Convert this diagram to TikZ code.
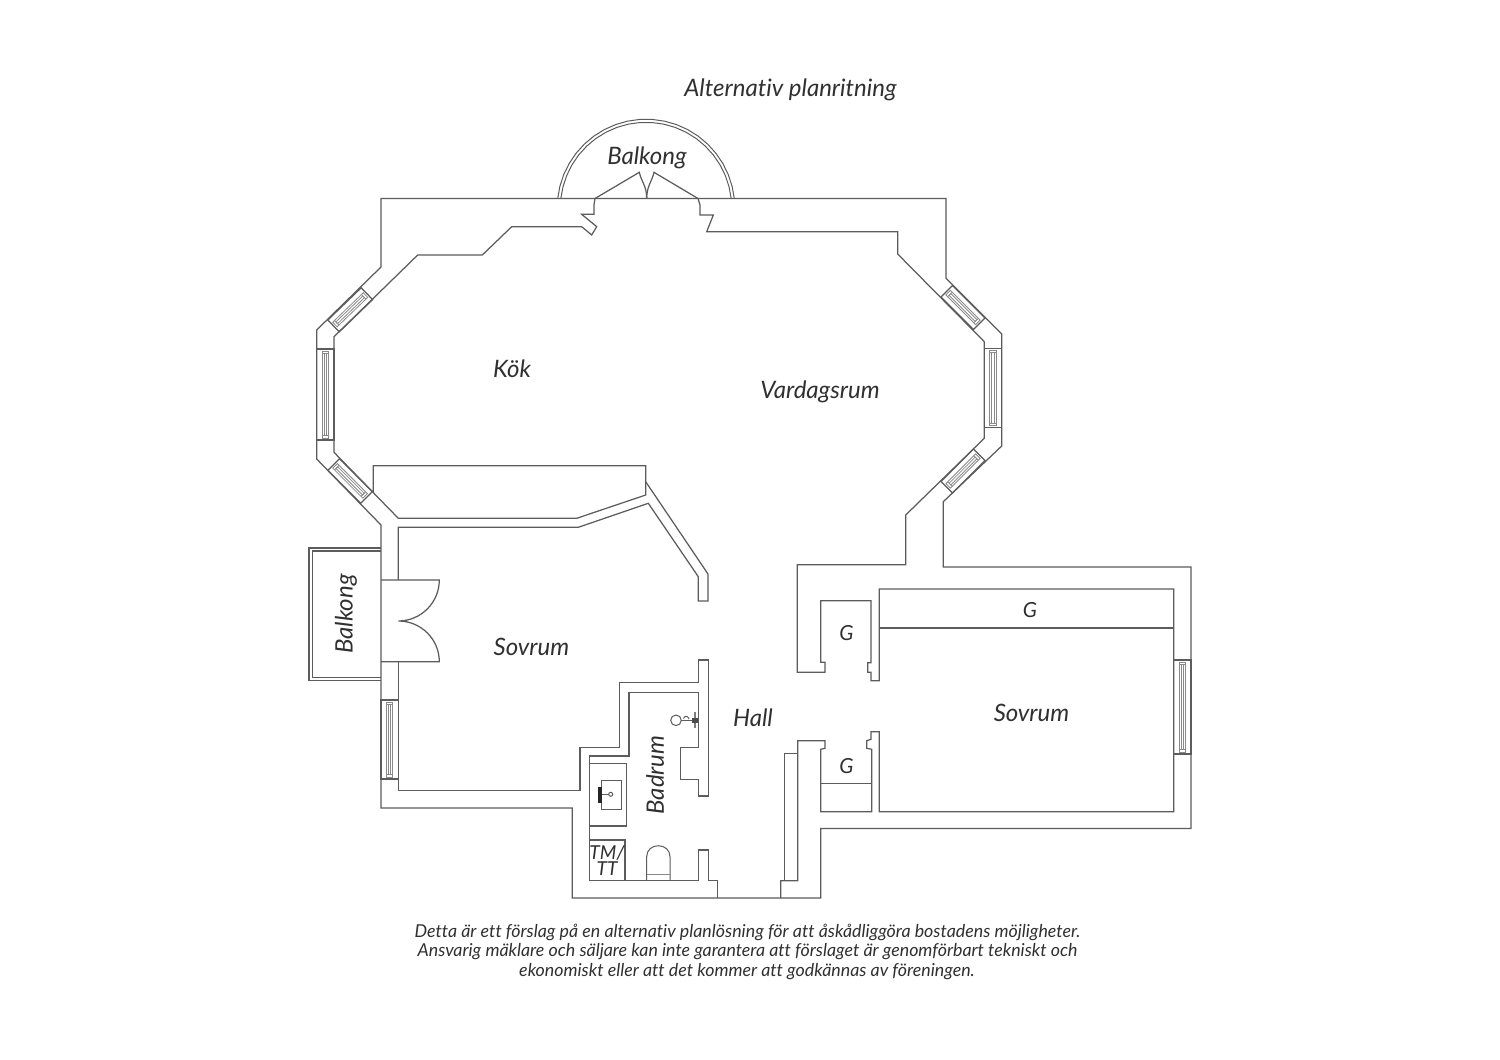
\documentclass[tikz,border=0pt]{standalone}
\usepackage{fontspec}
\setmainfont{Lato}[Ligatures=NoCommon]
\definecolor{wallc}{HTML}{5C5C5C}
\definecolor{textc}{HTML}{303030}
\definecolor{thinc}{HTML}{8A8A8A}
\newcommand{\planwin}[5]{%
  \begin{scope}[shift={(#1,#2)},rotate=#3]
    \draw[wall] ({-#4/2},{-#5/2}) rectangle ({#4/2},{#5/2});
    \draw[thinw] ({-#4/2+2},-3.2) rectangle ({#4/2-2},3.2);
    \draw[thinw] ({-#4/2+4.5},-1.2) rectangle ({#4/2-4.5},1.2);
    \draw[thinw] ({-#4/2+4.5},-3.2) -- ({-#4/2+4.5},3.2) ({#4/2-4.5},-3.2) -- ({#4/2-4.5},3.2);
  \end{scope}}
\tikzset{
  wall/.style={draw=wallc,line width=0.62pt,line join=miter},
  thinw/.style={draw=thinc,line width=0.4pt},
  lab/.style={text=textc,font=\itshape\fontsize{12}{14}\selectfont,inner sep=0pt},
  small/.style={text=textc,font=\itshape\fontsize{10.4}{12}\selectfont,inner sep=0pt},
  tiny/.style={text=textc,font=\itshape\fontsize{9.6}{11}\selectfont,inner sep=0pt},
  note/.style={text=textc,font=\itshape\fontsize{8.9}{10}\selectfont,inner sep=0pt}
}
\begin{document}
\begin{tikzpicture}[x=0.5pt,y=-0.5pt]
\useasboundingbox[fill=white] (0,0) rectangle (1500,1060);
% outer wall
\draw[wall] (381,198.5) -- (946,198.5) -- (946,278.3) -- (1001.7,334) -- (1001.7,446) -- (943.3,501.7) -- (943.3,567) -- (1191,567) -- (1191,828.5) -- (820.7,828.5) -- (820.7,898) -- (572.3,898) -- (572.3,808) -- (381,808) -- (381,525) -- (316.7,459) -- (316.7,330) -- (381,267) -- cycle;
% main room, west side
\draw[wall] (595,198.5) -- (594,205) -- (594,214.3) -- (581.7,214.3) -- (596.7,226.7) -- (591.7,235) -- (581.7,226.7) -- (511.7,226.7) -- (482.3,255) -- (417.7,255) -- (334,336.7) -- (334,452.3) -- (398.3,518.3) -- (576.7,518.3) -- (645.7,495) -- (645.7,465.7) -- (373.3,465.7) -- (373.3,492);
% bedroom wall top
\draw[wall] (645.7,481.7) -- (708,574) -- (708,601) -- (698.3,601) -- (698.3,576.7) -- (648.3,503.3) -- (578.3,527.3) -- (398.3,527.3) -- (398.3,580);
% bedroom / bathroom
\draw[wall] (398.3,661.7) -- (398.3,790.7) -- (580,790.7) -- (580,747.3) -- (619.3,747.3) -- (619.3,682.7) -- (698.3,682.7) -- (698.3,660) -- (708.3,660) -- (708.3,796) -- (698.3,796) -- (698.3,779.3) -- (680.7,779.3) -- (680.7,747.3) -- (698.3,747.3) -- (698.3,692.3) -- (629,692.3) -- (629,756) -- (589.3,756) -- (589.3,880.7) -- (698.3,880.7) -- (698.3,850) -- (708.3,850) -- (708.3,880.7) -- (717.7,880.7) -- (717.7,898);
% east side
\draw[wall] (780.7,898) -- (780.7,880.7) -- (797.7,880.7) -- (797.7,740.7) -- (825,740.7) -- (825,748.3) -- (820.7,749.3) -- (820.7,811.7) -- (871.7,811.7) -- (871.7,749.3) -- (866.7,748.3) -- (866.7,740.7) -- (871,739.3) -- (871,731.7) -- (879.3,731.7) -- (879.3,811.7) -- (1173.7,811.7) -- (1173.7,589) -- (879.3,589) -- (879.3,680.7) -- (871,680.7) -- (871,672.3) -- (867.7,672.3) -- (867.7,662.7) -- (871,662.7) -- (871,600.7) -- (820.7,600.7) -- (820.7,662.3) -- (825,662.3) -- (825,672.3) -- (797.3,672.3) -- (797.3,564.7) -- (905.7,564.7) -- (905.7,515) -- (984.3,438.3) -- (984.3,341.7) -- (897.7,254) -- (897.7,231.7) -- (706.7,231.7) -- (713.3,215) -- (700,215) -- (700,205) -- (698,198.5);
\draw[wall] (784.3,880.7) -- (784.3,753.3) -- (797.7,753.3);
\draw[wall] (820.7,783.3) -- (871.7,783.3);
\draw[wall] (879.3,628) -- (1173.7,628);
% windows
\planwin{350.2}{309.8}{44}{46.4}{16.4}
\planwin{325.4}{394.5}{90}{91}{17.3}
\planwin{350.1}{480.9}{-45}{46.5}{16.4}
\planwin{963}{307.5}{-45}{46}{16.4}
\planwin{993}{388}{90}{79.4}{17.4}
\planwin{963}{471}{45}{46}{16.4}
\planwin{1182.3}{707}{90}{94}{17.3}
\planwin{389.6}{739.5}{90}{79}{17.3}
% north balcony
\draw[wall,line width=0.5pt] plot[domain=6.1:173.9,samples=22] ({646+88.8*cos(\x)},{208-88.8*sin(\x)});
\draw[wall,line width=0.5pt] plot[domain=6.4:173.6,samples=22] ({646+85.7*cos(\x)},{208-85.7*sin(\x)});
\draw[wall] (595,198.5) -- (639.3,172.3) .. controls (641.5,182) and (646.7,186) .. (646.7,198.5);
\draw[wall] (698,198.5) -- (654,172.3) .. controls (651.8,182) and (646.7,186) .. (646.7,198.5);
% west balcony
\draw[wall] (381,548) -- (309,548) -- (309,680.7) -- (381,680.7);
\draw[wall] (381,551) -- (312.3,551) -- (312.3,677.7) -- (381,677.7);
% bedroom door
\draw[wall] (381,580) -- (439.3,580) .. controls (439.3,602.6) and (420.9,621) .. (398.3,621) .. controls (420.9,621) and (439.3,639) .. (439.3,661.7) -- (381,661.7);
% sink
\draw[wall] (589.3,763.3) -- (626.7,763.3) -- (626.7,826) -- (589.3,826);
\draw[thinw,draw=wallc] (601.7,780) rectangle (621.7,809.3);
\fill[black!85] (597.7,786.7) rectangle (602.3,802.7);
\draw[wallc,line width=0.5pt] (602.3,794.3) -- (609,794.3);
\draw[wallc,line width=0.5pt] (610.7,794.3) circle[radius=2];
% closet
\draw[wall] (589.3,840) -- (625,840) -- (625,880.7);
% toilet
\draw[wall,line width=0.5pt] (646.7,880.7) -- (646.7,856.7) .. controls (646.7,850) and (652,845.7) .. (658.3,845.7) .. controls (664.7,845.7) and (670,850) .. (670,856.7) -- (670,880.7);
\draw[thinw] (646.7,874) -- (670,874);
% shower
\draw[wallc,line width=0.5pt] (676,720.3) circle[radius=5.3];
\draw[wallc,line width=0.6pt] (681.3,720.3) -- (698.3,720.3);
\draw[wallc,line width=0.5pt] (683.5,718.5) .. controls (685,715) and (688,716) .. (689,719);
\fill[wallc!80] (693.6,711.7) rectangle (696.4,728.3);
\fill[black!70] (691.5,717.5) rectangle (697.5,722.5);
% labels
\node[lab] (title) at (790.5,89.5) {Alternativ planritning};
\node[lab] (balkn) at (647,158) {Balkong};
\node[lab] (kok) at (512,369) {Kök};
\node[lab] (vard) at (820,391.5) {Vardagsrum};
\node[lab,rotate=90] (balkw) at (346,614) {Balkong};
\node[lab] (sov1) at (531.5,647) {Sovrum};
\node[lab] (sov2) at (1031.5,713) {Sovrum};
\node[lab] (hall) at (753,718) {Hall};
\node[lab,rotate=90] (badr) at (655,775) {Badrum};
\node[small] (g1) at (846.5,633) {G};
\node[small] (g2) at (1030,610) {G};
\node[small] (g3) at (846.5,766) {G};
\node[tiny] (tm) at (607,853) {TM/};
\node[tiny] (tt) at (607,869) {TT};
\node[note] (n1) at (747.5,932) {Detta är ett förslag på en alternativ planlösning för att åskådliggöra bostadens möjligheter.};
\node[note] (n2) at (747.5,952) {Ansvarig mäklare och säljare kan inte garantera att förslaget är genomförbart tekniskt och};
\node[note] (n3) at (747,972) {ekonomiskt eller att det kommer att godkännas av föreningen.};
\end{tikzpicture}
\end{document}
